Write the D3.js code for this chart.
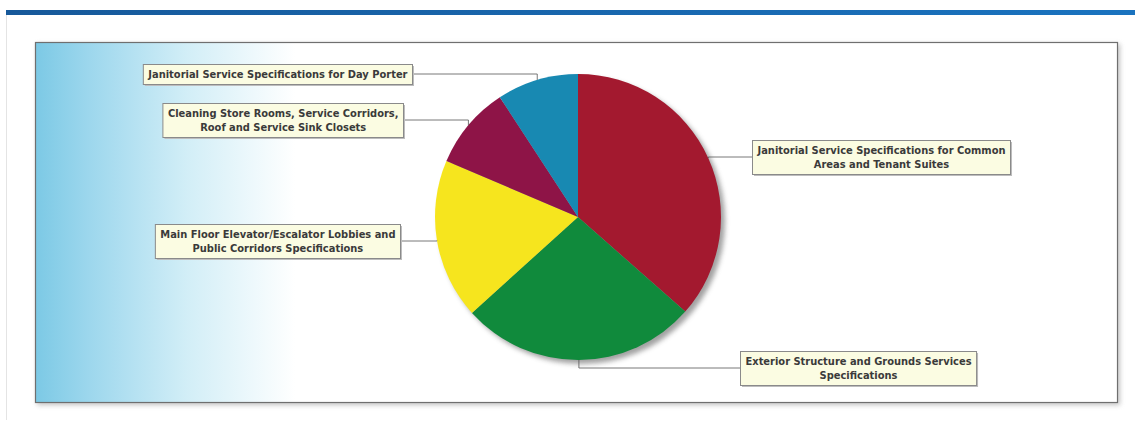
<!DOCTYPE html>
<html>
    <head>
        <style>
            body { margin: 0; background: #fff; }
            svg { display: block; }
        </style>
        <script src="https://cdnjs.cloudflare.com/ajax/libs/d3/7.8.5/d3.min.js"></script>
    </head>
    <body>
        <div id="chart"></div>
        <script>
            // slice data, clockwise from 12 o'clock
            const categories = [
                "Janitorial Service Specifications for Common Areas and Tenant Suites",
                "Exterior Structure and Grounds Services Specifications",
                "Main Floor Elevator/Escalator Lobbies and Public Corridors Specifications",
                "Cleaning Store Rooms, Service Corridors, Roof and Service Sink Closets",
                "Janitorial Service Specifications for Day Porter"
            ];
            const values = [36.5, 26.8, 18.1, 9.4, 9.2];
            // how each label wraps in its box
            const labelLines = [
                ["Janitorial Service Specifications for Common", "Areas and Tenant Suites"],
                ["Exterior Structure and Grounds Services", "Specifications"],
                ["Main Floor Elevator/Escalator Lobbies and", "Public Corridors Specifications"],
                ["Cleaning Store Rooms, Service Corridors,", "Roof and Service Sink Closets"],
                ["Janitorial Service Specifications for Day Porter"]
            ];
            const colors = ["#a3192f", "#108a3c", "#f6e51e", "#8e1447", "#1889b2"];

            // label box placement: side, anchor x (box edge nearest the pie), center y
            const labelLayout = [
                {side: "right", x: 752, y: 157},
                {side: "right", x: 740, y: 368},
                {side: "left", x: 400, y: 241},
                {side: "left", x: 403, y: 120},
                {side: "left", x: 412, y: 74}
            ];

            const W = 1135, H = 430;
            const cx = 578, cy = 217, r = 143;

            const svg = d3.select("#chart").append("svg")
                .attr("width", W).attr("height", H);

            const defs = svg.append("defs");
            const bg = defs.append("linearGradient").attr("id", "bgGrad")
                .attr("x1", "0%").attr("x2", "100%").attr("y1", "0%").attr("y2", "0%");
            bg.append("stop").attr("offset", "0%").attr("stop-color", "#7cc9e5");
            bg.append("stop").attr("offset", "5%").attr("stop-color", "#9dd7ed");
            bg.append("stop").attr("offset", "14%").attr("stop-color", "#d2eef7");
            bg.append("stop").attr("offset", "24%").attr("stop-color", "#ffffff");
            bg.append("stop").attr("offset", "100%").attr("stop-color", "#ffffff");

            const bar = defs.append("linearGradient").attr("id", "barGrad")
                .attr("x1", "0%").attr("x2", "100%");
            bar.append("stop").attr("offset", "0%").attr("stop-color", "#17599a");
            bar.append("stop").attr("offset", "100%").attr("stop-color", "#1a73bf");

            defs.append("filter").attr("id", "blur")
                .attr("x", "-10%").attr("y", "-10%").attr("width", "120%").attr("height", "120%")
                .append("feGaussianBlur").attr("stdDeviation", 2.5);

            // header bar and faint page frame
            svg.append("rect").attr("x", 6).attr("y", 10).attr("width", W - 6).attr("height", 5)
                .attr("fill", "url(#barGrad)");
            svg.append("line").attr("x1", 6.5).attr("x2", 6.5).attr("y1", 15).attr("y2", 420)
                .attr("stroke", "#e4e4e4");

            // plot area
            svg.append("rect").attr("x", 37).attr("y", 44).attr("width", 1083).attr("height", 361)
                .attr("fill", "#9a9a9a").attr("filter", "url(#blur)").attr("opacity", 0.6);
            svg.append("rect").attr("x", 35.5).attr("y", 42.5).attr("width", 1082).attr("height", 360)
                .attr("fill", "url(#bgGrad)").attr("stroke", "#6f6f6f").attr("stroke-width", 1.2);

            const pie = d3.pie().sort(null).value(d => d)(values);
            const arc = d3.arc().innerRadius(0).outerRadius(r);

            const g = svg.append("g").attr("transform", `translate(${cx},${cy})`);

            // pie shadow
            g.append("circle").attr("cx", 4).attr("cy", 4).attr("r", r)
                .attr("fill", "#555").attr("opacity", 0.55).attr("filter", "url(#blur)");

            g.selectAll("path.slice").data(pie).enter().append("path")
                .attr("class", "slice")
                .attr("d", arc)
                .attr("fill", (d, i) => colors[i]);

            // connectors and label boxes
            const font = "bold 11px 'DejaVu Sans Condensed', 'DejaVu Sans', sans-serif";
            const lineH = 14;
            const canvas = document.createElement("canvas").getContext("2d");
            canvas.font = font;

            pie.forEach((d, i) => {
                const mid = (d.startAngle + d.endAngle) / 2;
                const ax = cx + r * Math.sin(mid);
                const ay = cy - r * Math.cos(mid);
                const lay = labelLayout[i];
                const lines = labelLines[i];
                const tw = d3.max(lines, t => canvas.measureText(t).width);
                const bw = tw + 10;
                const bh = lines.length * lineH + 6;
                const bx = lay.side === "left" ? lay.x - bw : lay.x;
                const by = lay.y - bh / 2;

                svg.append("path")
                    .attr("d", `M${ax},${ay} L${ax},${lay.y} L${lay.x},${lay.y}`)
                    .attr("fill", "none").attr("stroke", "#555").attr("stroke-width", 0.8);

                svg.append("rect").attr("x", bx + 2).attr("y", by + 2)
                    .attr("width", bw).attr("height", bh).attr("fill", "#bdbdbd");
                svg.append("rect").attr("x", bx + 0.5).attr("y", by + 0.5)
                    .attr("width", bw).attr("height", bh)
                    .attr("fill", "#fbfce2").attr("stroke", "#8a8a8a").attr("stroke-width", 1);

                const t = svg.append("text")
                    .attr("text-anchor", "middle")
                    .style("font", font)
                    .attr("fill", "#3a3a3a");
                lines.forEach((ln, j) => {
                    t.append("tspan")
                        .attr("x", bx + bw / 2 + 0.5)
                        .attr("y", by + 14 + j * lineH)
                        .text(ln);
                });
            });
        </script>
    </body>
</html>
